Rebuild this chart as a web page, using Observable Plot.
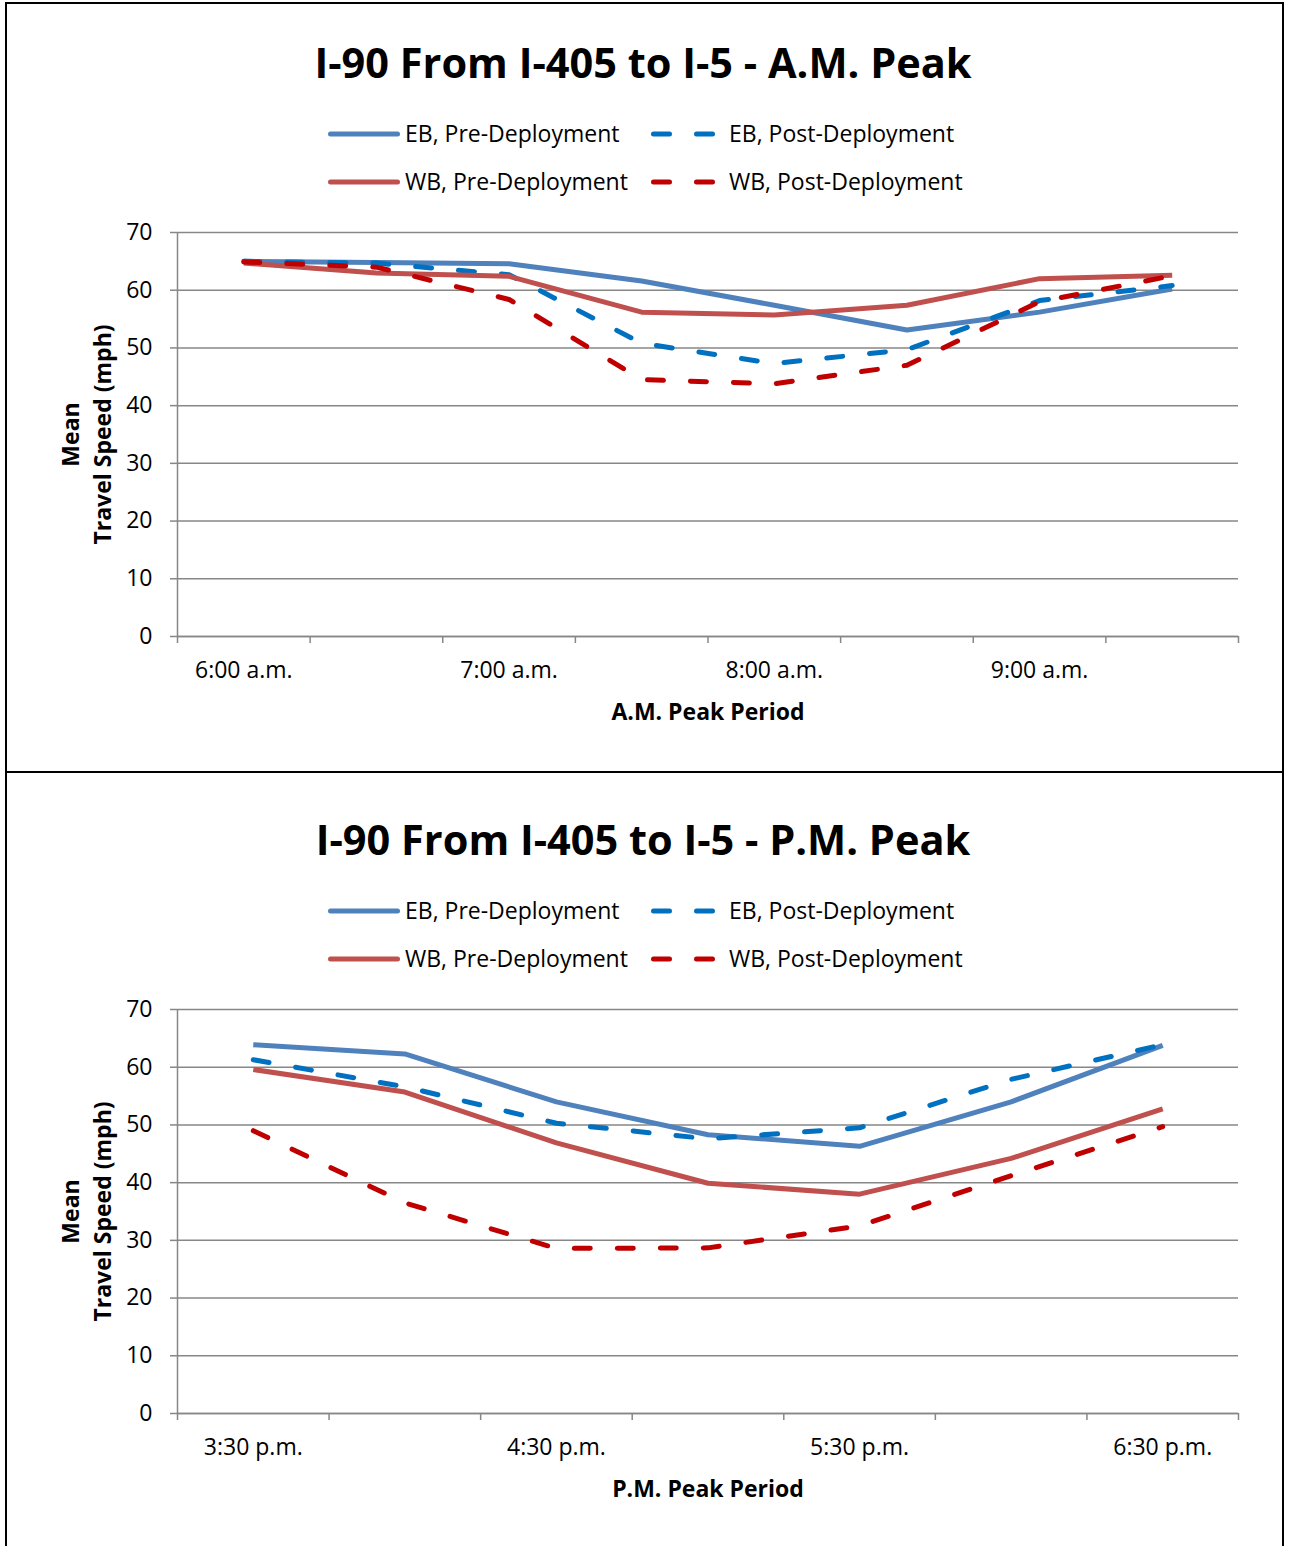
<!DOCTYPE html>
<html><head><meta charset="utf-8">
<script src="https://cdn.jsdelivr.net/npm/d3@7"></script>
<script src="https://cdn.jsdelivr.net/npm/@observablehq/plot@0.6"></script>
<style>
body{margin:0;background:#fff;font-family:"Open Sans", sans-serif;}
#page{position:relative;width:1293px;height:1546px;overflow:hidden;background:#fff;}
.box{position:absolute;border:2px solid #000;box-sizing:border-box;}
.title{position:absolute;left:0;width:1286px;text-align:center;font-weight:bold;font-size:41.5px;line-height:50px;color:#000;white-space:nowrap;}
.leg{position:absolute;font-size:23px;line-height:30px;white-space:nowrap;color:#000;}
.sw{position:absolute;}
</style></head><body><div id="page"></div>
<script>
// ---- Data ----
const amTimes = ["6:00 a.m.","6:30 a.m.","7:00 a.m.","7:30 a.m.","8:00 a.m.","8:30 a.m.","9:00 a.m.","9:30 a.m."];
const amEbPre  = [65.0, 64.8, 64.6, 61.6, 57.4, 53.1, 56.2, 60.2];
const amEbPost = [65.0, 64.7, 62.7, 50.8, 47.3, 49.7, 58.2, 60.8];
const amWbPre  = [64.7, 63.0, 62.4, 56.2, 55.7, 57.4, 62.0, 62.6];
const amWbPost = [64.9, 64.0, 58.4, 44.5, 43.8, 47.0, 58.0, 62.5];

const pmTimes = ["3:30 p.m.","4:00 p.m.","4:30 p.m.","5:00 p.m.","5:30 p.m.","6:00 p.m.","6:30 p.m."];
const pmEbPre  = [63.9, 62.3, 54.0, 48.3, 46.3, 54.0, 63.8];
const pmEbPost = [61.3, 56.6, 50.3, 47.6, 49.5, 57.9, 63.9];
const pmWbPre  = [59.6, 55.7, 46.9, 39.9, 38.0, 44.2, 52.8];
const pmWbPost = [49.0, 36.5, 28.6, 28.7, 32.5, 41.2, 49.7];

const seriesNames = ["EB, Pre-Deployment","EB, Post-Deployment","WB, Pre-Deployment","WB, Post-Deployment"];
const yTicks = [0,10,20,30,40,50,60,70];
const yTitle = "Mean\nTravel Speed (mph)";

// ---- Styles ----
const colors = ["#4F81BD","#0070C0","#C0504D","#C00000"];
const dashed = [false,true,false,true];
const gray = "#878787";
const DASH = "16,27";
const LW = 5;
const FONT = "'Open Sans', sans-serif";

const page = document.getElementById("page");

function addBox(l,t,w,h){const d=document.createElement("div");d.className="box";Object.assign(d.style,{left:l+"px",top:t+"px",width:w+"px",height:h+"px"});page.appendChild(d);}
addBox(5,2,1279,771);
addBox(5,771,1279,800);

function swatch(x,y,w,color,dash){
  const ns="http://www.w3.org/2000/svg";
  const s=document.createElementNS(ns,"svg");
  s.setAttribute("width",w+8);s.setAttribute("height",12);
  s.setAttribute("class","sw");
  s.style.left=(x-4)+"px";s.style.top=(y-6)+"px";
  const l=document.createElementNS(ns,"line");
  l.setAttribute("x1",4+LW/2);l.setAttribute("x2",4+w-LW/2);l.setAttribute("y1",6);l.setAttribute("y2",6);
  l.setAttribute("stroke",color);l.setAttribute("stroke-width",LW);l.setAttribute("stroke-linecap","round");
  if(dash) l.setAttribute("stroke-dasharray",DASH);
  s.appendChild(l);page.appendChild(s);
}

function panel(off, title, times, series, xTitle){
  const t=document.createElement("div");t.className="title";t.style.top=(off+37)+"px";t.textContent=title;page.appendChild(t);
  const pos=[[328,72,405,134],[651,66,729,134],[328,72,405,182],[651,66,729,182]];
  pos.forEach((p,k)=>{
    swatch(p[0],off+p[3],p[1],colors[k],dashed[k]);
    const d=document.createElement("div");d.className="leg";d.style.left=p[2]+"px";d.style.top=(off+p[3]-16)+"px";d.textContent=seriesNames[k];page.appendChild(d);
  });
  const n=times.length;
  const labelIdx=d3.range(0,n,2).map(i=>i+0.5);
  const lineMarks=series.map((vals,k)=>Plot.line(vals.map((v,i)=>({i:i+0.5,v})),{x:"i",y:"v",stroke:colors[k],strokeWidth:LW,strokeDasharray:dashed[k]?DASH:null,strokeLinecap:dashed[k]?"round":"butt",strokeLinejoin:"round"}));
  const chart=Plot.plot({
    width:1293,height:528,marginLeft:177,marginRight:55,marginTop:20,marginBottom:104,
    style:{fontFamily:FONT,fontSize:"23px",background:"transparent",color:"#000",overflow:"visible"},
    x:{domain:[0,n],axis:null},
    y:{domain:[0,70],axis:null},
    marks:[
      Plot.gridY(yTicks,{stroke:gray,strokeOpacity:1,strokeWidth:1.5}),
      Plot.ruleX([0],{stroke:gray,strokeWidth:1.5}),
      Plot.ruleY([0],{stroke:gray,strokeWidth:1.5}),
      Plot.axisY(yTicks,{tickSize:7,tickPadding:18,stroke:gray,strokeWidth:1.5,fontSize:23,label:null}),
      Plot.axisX(d3.range(n+1),{tickSize:7,tickFormat:()=>"",stroke:gray,strokeWidth:1.5,label:null}),
      Plot.axisX(labelIdx,{tickSize:0,tickPadding:25,tickFormat:v=>times[v-0.5],fontSize:23,label:null}),
      ...lineMarks,
      Plot.text([yTitle],{frameAnchor:"left",textAnchor:"middle",lineAnchor:"middle",dx:-93,rotate:-90,fontWeight:"bold",fontSize:23,lineHeight:1.4}),
      Plot.text([xTitle],{frameAnchor:"bottom",dy:83,fontWeight:"bold",fontSize:23})
    ]
  });
  chart.style.position="absolute";chart.style.left="0px";chart.style.top=(off+212)+"px";
  page.appendChild(chart);
}

panel(0,"I-90 From I-405 to I-5 - A.M. Peak",amTimes,[amEbPre,amEbPost,amWbPre,amWbPost],"A.M. Peak Period");
panel(777,"I-90 From I-405 to I-5 - P.M. Peak",pmTimes,[pmEbPre,pmEbPost,pmWbPre,pmWbPost],"P.M. Peak Period");
</script></body></html>
